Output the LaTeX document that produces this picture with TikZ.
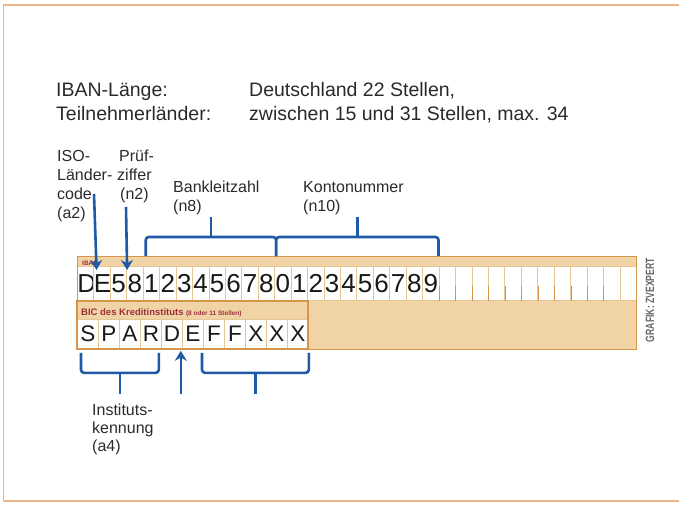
\documentclass[tikz,border=0pt]{standalone}
\usepackage{fontspec}
\usepackage{graphicx}
\setmainfont{Liberation Sans}
\usetikzlibrary{arrows.meta,calc}
\definecolor{tanfill}{HTML}{F1D4A6}
\definecolor{tanline}{HTML}{E6C596}
\definecolor{orangeline}{HTML}{D6964A}
\definecolor{framecol}{HTML}{EDB48A}
\definecolor{bluearr}{HTML}{1E5AA5}
\definecolor{txt}{HTML}{2A2A2A}
\definecolor{maroonc}{HTML}{9E3040}
\begin{document}
\begin{tikzpicture}[x=1pt,y=-1pt,
  head/.style={anchor=base west, inner sep=0, font=\fontsize{19.5}{23}\selectfont, text=txt},
  lbl/.style={anchor=base west, inner sep=0, font=\fontsize{16}{18}\selectfont, text=txt},
  icell/.style={draw=tanline, line width=0.8pt, fill=white, minimum width=16.44pt, minimum height=34pt,
    inner sep=0, anchor=north west, text height=18.5pt, text depth=0pt,
    font=\fontsize{26}{26}\selectfont, text=black!90},
  bcell/.style={draw=tanline, line width=0.8pt, fill=white, minimum width=21pt, minimum height=29pt,
    inner sep=0, anchor=north west, text height=16pt, text depth=0pt,
    font=\fontsize{22.5}{22}\selectfont, text=black!90},
  smalllbl/.style={anchor=base west, inner sep=0, text=maroonc},
  brace/.style={draw=bluearr, line width=2.6pt, rounded corners=3pt},
  tick/.style={draw=bluearr, line width=2.6pt},
  arr/.style={draw=bluearr, line width=2.6pt, -{Stealth[length=10pt,width=12pt]}}
]
\useasboundingbox (0,0) rectangle (679,504);
% frame
\draw[framecol, line width=1.3pt] (679,5) -- (3.5,5) -- (3.5,501) -- (679,501);

% heading
\node[head] (h1) at (56,96) {IBAN-Länge:};
\node[head] (h2) at (56,120) {Teilnehmerländer:};
\node[head] (h3) at (249,96) {Deutschland 22 Stellen,};
\node[head] (h4) at (249,120) {zwischen 15 und 31 Stellen, max. 34};

% labels
\node[lbl] (iso1) at (57,161) {ISO-};
\node[lbl] (iso2) at (57,180) {Länder-};
\node[lbl] (iso3) at (57,199) {code};
\node[lbl] (iso4) at (57,218) {(a2)};
\node[lbl] (pr1) at (119,161) {Prüf-};
\node[lbl] (pr2) at (117,180) {ziffer};
\node[lbl] (pr3) at (120,199) {(n2)};
\node[lbl] (blz1) at (173,192) {Bankleitzahl};
\node[lbl] (blz2) at (173,211) {(n8)};
\node[lbl] (kto1) at (303,192) {Kontonummer};
\node[lbl] (kto2) at (303,211) {(n10)};
\node[lbl] (ik1) at (92,415) {Instituts-};
\node[lbl] (ik2) at (92,433) {kennung};
\node[lbl] (ik3) at (92,451) {(a4)};

% bar
\fill[tanfill] (77,256) rectangle (636,349);
\foreach \c [count=\i] in {D,E,5,8,1,2,3,4,5,6,7,8,0,1,2,3,4,5,6,7,8,9}
  \node[icell] (i\i) at ({77+(\i-1)*16.44},266) {\c};
\foreach \i in {23,...,34}
  \node[icell] (i\i) at ({77+(\i-1)*16.44},266) {};
\foreach \i in {22,...,32}
  \draw[orangeline, line width=1pt] (i\i.south east) -- ++(0,-15);
\draw[orangeline, line width=1pt] (77,256) rectangle (636,349);

\foreach \c [count=\i] in {S,P,A,R,D,E,F,F,X,X,X}
  \node[bcell] (b\i) at ({77+(\i-1)*21},319) {\c};
\draw[orangeline, line width=1.3pt] (77,301) rectangle (308,349);

\node[smalllbl, font=\bfseries\fontsize{6.5}{7}\selectfont] (ibanlbl) at (82,265) {IBAN};
\node[smalllbl, font=\bfseries\fontsize{9.5}{10}\selectfont] (biclbl) at (81,315.5) {BIC des Kreditinstituts};
\node[smalllbl, font=\bfseries\fontsize{6.5}{7}\selectfont] (bicsub) at ([xshift=2pt]biclbl.base east) {(8 oder 11 Stellen)};

% credit
\node[rotate=90, inner sep=0, font=\bfseries\fontsize{12}{12}\selectfont, text=black!60] (credit) at (650,300)
  {\scalebox{0.72}[1]{GRAFIK: ZVEXPERT}};

% top arrows
\coordinate (isoTail) at (94,194);
\coordinate (prTail) at (126,207);
\draw[arr] (isoTail) -- ([yshift=-4pt]i1.north east);
\draw[arr] (prTail) -- ([yshift=-4pt]i3.north east);

% top braces
\coordinate (bL) at ([xshift=3pt,yshift=10pt]i5.north west);
\coordinate (bM) at ([xshift=1pt,yshift=10pt]i12.north east);
\coordinate (bR) at ([xshift=-1pt,yshift=10pt]i22.north east);
\draw[brace] (bL) -- ++(0,-19) -| (bM);
\draw[brace] (bM) -- ++(0,-19) -| (bR);
\draw[tick] ($(bL)!.5!(bM)+(0,-19)$) -- ++(0,-20);
\draw[tick] ($(bM)!.5!(bR)+(0,-19)$) -- ++(0,-20);

% bottom braces
\coordinate (c1) at ([xshift=4pt,yshift=-4pt]b1.south west);
\coordinate (c2) at ([xshift=-3pt,yshift=-4pt]b4.south east);
\coordinate (c3) at ([xshift=-1pt,yshift=-4pt]b7.south west);
\coordinate (c4) at ([xshift=0pt,yshift=-4pt]b11.south east);
\draw[brace] (c1) -- ++(0,20) -| (c2);
\draw[brace] (c3) -- ++(0,20) -| (c4);
\draw[tick] ($(c1)!.5!(c2)+(0,20)$) -- ++(0,21);
\draw[tick] ($(c3)!.5!(c4)+(0,20)$) -- ++(0,21);
\draw[arr] ([xshift=-2pt,yshift=-45pt]b5.south east) -- ([xshift=-2pt,yshift=-2pt]b5.south east);
\end{tikzpicture}
\end{document}
